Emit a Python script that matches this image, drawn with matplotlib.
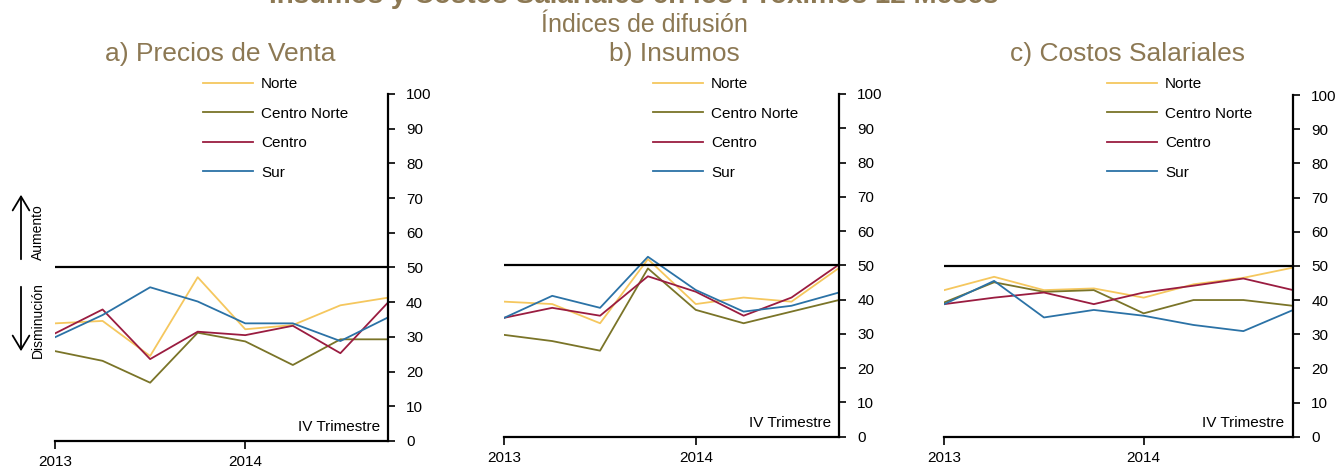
import matplotlib
matplotlib.use("Agg")
import matplotlib.pyplot as plt
from matplotlib import font_manager

plt.rcParams['font.family'] = ['Liberation Sans', 'DejaVu Sans']

## Data (quarterly, 2013 Q1 .. 2014 Q4)
quarters = list(range(8))
year_ticks = [0, 4]
year_labels = ['2013', '2014']
regions = ['Norte', 'Centro Norte', 'Centro', 'Sur']
colors = ['#F5C75E', '#7A7428', '#9A1C40', '#2B72A6']

precios = {
    'Norte':        [33.9, 34.6, 24.5, 47.2, 32.2, 33.4, 39.1, 41.3],
    'Centro Norte': [25.9, 23.1, 16.8, 31.2, 28.7, 21.9, 29.3, 29.3],
    'Centro':       [31.0, 37.9, 23.6, 31.5, 30.5, 33.2, 25.3, 39.9],
    'Sur':          [29.9, 36.3, 44.3, 40.2, 33.9, 33.9, 28.8, 35.6],
}
insumos = {
    'Norte':        [39.4, 38.7, 33.1, 51.8, 38.7, 40.6, 39.4, 49.3],
    'Centro Norte': [29.7, 27.9, 25.1, 49.1, 37.0, 33.1, 36.5, 39.9],
    'Centro':       [34.7, 37.6, 35.3, 46.8, 42.3, 35.3, 40.6, 50.3],
    'Sur':          [34.7, 41.1, 37.6, 52.5, 42.8, 36.5, 38.2, 42.1],
}
salariales = {
    'Norte':        [42.9, 46.8, 42.9, 43.4, 40.7, 44.6, 46.5, 49.5],
    'Centro Norte': [39.3, 45.2, 42.4, 42.9, 36.1, 40.0, 40.0, 38.3],
    'Centro':       [38.8, 40.7, 42.2, 38.8, 42.2, 44.2, 46.3, 42.9],
    'Sur':          [38.8, 45.6, 34.9, 37.1, 35.4, 32.7, 30.9, 37.1],
}

panels = [
    ('a) Precios de Venta', precios, [0.0412, 0.0577, 0.2494, 0.7415], (220, 203)),
    ('b) Insumos', insumos, [0.3778, 0.0669, 0.2509, 0.7323], (674, 653)),
    ('c) Costos Salariales', salariales, [0.7073, 0.0669, 0.2614, 0.7300], (1127, 1107)),
]

W, H = 1335, 468
title_color = '#8C7853'

## narrow font for the subtitle, if one is installed
installed = {f.name for f in font_manager.fontManager.ttflist}
narrow = [n for n in ['Liberation Sans Narrow', 'DejaVu Sans Condensed'] if n in installed]
sub_family = narrow[:1] + ['Liberation Sans', 'DejaVu Sans']
sub_size = 19 if narrow else 18

fig = plt.figure(figsize=(W / 100, H / 100), dpi=100)

for title, data, rect, (tx, lx) in panels:
    ax = fig.add_axes(rect)
    for name, c in zip(regions, colors):
        ax.plot(quarters, data[name], color=c, lw=1.3, label=name)
    ax.axhline(50, color='black', lw=1.6)
    ax.set_xlim(0, 7)
    ax.set_ylim(0, 100)
    ax.set_yticks(range(0, 101, 10))
    ax.yaxis.tick_right()
    ax.set_xticks(year_ticks)
    ax.set_xticklabels(year_labels)
    ax.tick_params(axis='y', direction='out', length=5, width=1.2, pad=8, labelsize=11)
    ax.tick_params(axis='x', direction='out', length=6, width=1.2, pad=4, labelsize=11)
    for s in ['top', 'left']:
        ax.spines[s].set_visible(False)
    for s in ['right', 'bottom']:
        ax.spines[s].set_linewidth(1.6)
    ax.text(0.975, 0.04, 'IV Trimestre', transform=ax.transAxes,
            ha='right', va='center', fontsize=11)
    fig.text(tx / W, 1 - 54 / H, title, ha='center', va='center',
             fontsize=19, color=title_color)
    ax.legend(loc='upper left', bbox_to_anchor=(lx / W, 1 - 77 / H),
              bbox_transform=fig.transFigure, frameon=False, fontsize=11,
              handlelength=3.3, handletextpad=0.5, labelspacing=1.02,
              borderaxespad=0, borderpad=0)

## Main title (cut at the top edge) and subtitle
fig.text(634 / W, 1 - 3 / H, 'Insumos y Costos Salariales en los Próximos 12 Meses',
         ha='center', va='baseline', fontsize=20, fontweight='bold', color=title_color)
fig.text(644 / W, 1 - 32 / H, 'Índices de difusión', ha='center', va='baseline',
         fontsize=sub_size, color=title_color, family=sub_family)

## Aumento / Disminución arrows
fig.patches.append(matplotlib.patches.FancyArrowPatch(
    (21 / W, 1 - 262 / H), (21 / W, 1 - 192 / H), transform=fig.transFigure,
    arrowstyle='->,head_length=10,head_width=6', color='black', lw=1.3))
fig.patches.append(matplotlib.patches.FancyArrowPatch(
    (21 / W, 1 - 284 / H), (21 / W, 1 - 354 / H), transform=fig.transFigure,
    arrowstyle='->,head_length=10,head_width=6', color='black', lw=1.3))
fig.text(38 / W, 1 - 232 / H, 'Aumento', rotation=90, ha='center', va='center', fontsize=10)
fig.text(38 / W, 1 - 320 / H, 'Disminución', rotation=90, ha='center', va='center', fontsize=10)

fig.savefig('out.png', dpi=100)
